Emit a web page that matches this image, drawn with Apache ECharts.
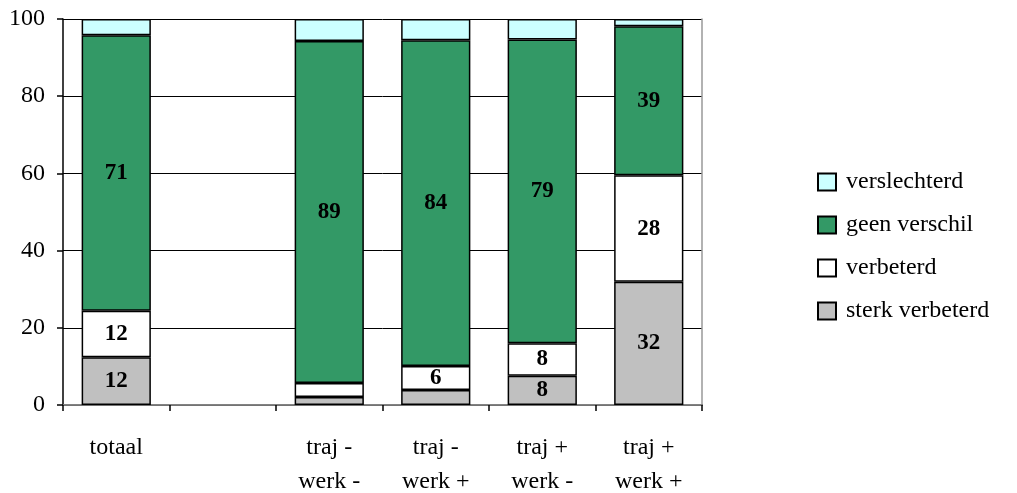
<!DOCTYPE html>
<html>
<head>
<meta charset="utf-8">
<script src="https://cdn.jsdelivr.net/npm/echarts@6/dist/echarts.min.js"></script>
<style>html,body{margin:0;padding:0;background:#fff;overflow:hidden;}#c{width:1017px;height:493px;}</style>
</head>
<body>
<div id="c"></div>
<script>
var categories = ['totaal', '', 'traj -\nwerk -', 'traj -\nwerk +', 'traj +\nwerk -', 'traj +\nwerk +'];
var sterkVerbeterd = [12.4, null, 2.1, 3.9, 7.6, 31.9];
var verbeterd = [12.0, null, 3.6, 6.2, 8.4, 27.6];
var geenVerschil = [71.4, null, 88.6, 84.4, 78.7, 38.6];
var verslechterd = [4.2, null, 5.7, 5.5, 5.3, 1.9];
var yTicks = [0, 20, 40, 60, 80, 100];

var FONT = 'Liberation Serif';
var el = document.getElementById('c');
var chart = echarts.init(el, null, {renderer: 'canvas'});

function mk(name, data, color, showLabel) {
  return {
    name: name, type: 'bar', stack: 'a', data: data, barWidth: '65%',
    itemStyle: {color: color, borderColor: '#000', borderWidth: 1.5},
    label: {
      show: showLabel, position: 'inside', color: '#000', fontFamily: FONT,
      fontWeight: 'bold', fontSize: 23,
      formatter: function (p) { return p.value >= 5.95 ? String(Math.round(p.value)) : ''; }
    },
    emphasis: {disabled: true}
  };
}

chart.setOption({
  animation: false,
  backgroundColor: '#fff',
  grid: {left: 63, right: 315, top: 19, bottom: 88, outerBoundsMode: 'none', containLabel: false},
  legend: {
    orient: 'vertical', left: 817, top: 170, padding: 0, itemWidth: 18, itemHeight: 17, itemGap: 19,
    icon: 'rect',
    data: ['verslechterd', 'geen verschil', 'verbeterd', 'sterk verbeterd'],
    textStyle: {fontFamily: FONT, fontSize: 24, color: '#000', padding: [0, 0, 0, 5]}
  },
  xAxis: [{
    type: 'category', data: categories,
    axisLine: {lineStyle: {color: '#000', width: 1.5}},
    axisTick: {show: true, length: 6, lineStyle: {color: '#000', width: 1.5}},
    axisLabel: {fontFamily: FONT, fontSize: 24, color: '#000', margin: 26, lineHeight: 34, interval: 0}
  }, {
    type: 'category', data: categories, position: 'top',
    axisLine: {lineStyle: {color: '#999', width: 1.5}},
    axisTick: {show: false}, axisLabel: {show: false}
  }],
  yAxis: [{
    type: 'value', min: 0, max: 100, interval: 20,
    axisLine: {show: true, lineStyle: {color: '#000', width: 1.5}},
    axisTick: {show: true, length: 6, lineStyle: {color: '#000', width: 1.5}},
    axisLabel: {fontFamily: FONT, fontSize: 24, color: '#000', margin: 18,
      formatter: function (v) { return yTicks.indexOf(v) >= 0 ? String(v) : ''; }},
    splitLine: {show: true, lineStyle: {color: '#000', width: 1}}
  }, {
    type: 'value', min: 0, max: 100, interval: 20, position: 'right',
    axisLine: {show: true, lineStyle: {color: '#999', width: 1.5}},
    axisTick: {show: false}, axisLabel: {show: false}, splitLine: {show: false}
  }],
  series: [
    mk('sterk verbeterd', sterkVerbeterd, '#C0C0C0', true),
    mk('verbeterd', verbeterd, '#FFFFFF', true),
    mk('geen verschil', geenVerschil, '#339966', true),
    mk('verslechterd', verslechterd, '#CCFFFF', false)
  ]
});
</script>
</body>
</html>
